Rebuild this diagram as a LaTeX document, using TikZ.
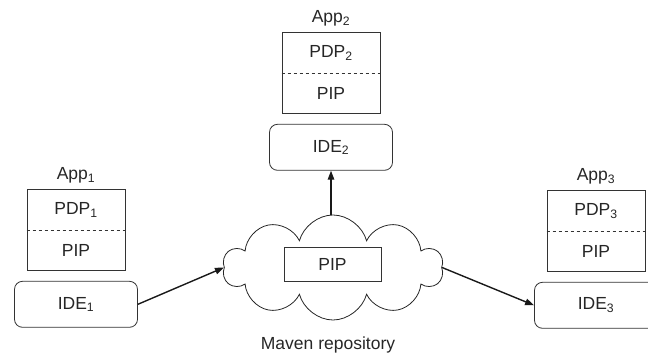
\documentclass[tikz,border=0pt]{standalone}
\usepackage{fontspec}
\setmainfont{Liberation Sans}
\usetikzlibrary{positioning,shapes.symbols,arrows.meta}
\begin{document}
\begin{tikzpicture}[x=1pt, y=-1pt,
   every node/.style={font=\fontsize{17.5}{20}\selectfont, text=black!85},
   app/.style={draw=black!80, line width=0.8pt, minimum width=98pt, minimum height=81pt},
   ide/.style={draw=black!80, line width=0.8pt, rounded corners=8pt, minimum width=123pt, minimum height=46pt},
   repo/.style={cloud, cloud puffs=10, cloud ignores aspect, draw=black!85, line width=0.8pt,
     minimum width=220pt, minimum height=105pt},
   link/.style={-{Triangle[length=9pt,width=6.5pt]}, line width=1.4pt, black!90}]
\useasboundingbox (0,0) rectangle (648,356);
\clip (0,0) rectangle (648,356);
\foreach \i/\cx/\cy in {1/76/230, 2/331/73, 3/596/231} {
  \node[app] (app\i) at (\cx,\cy) {};
  \draw[black!80, dashed, line width=0.7pt] (app\i.west) -- (app\i.east);
  \node (pdp\i) at ([yshift=20.25pt]app\i.center) {PDP\textsubscript{\i}};
  \node (pip\i) at ([yshift=-20.25pt]app\i.center) {PIP};
  \node[above=2pt of app\i] (lbl\i) {App\textsubscript{\i}};
  \node[ide, below=10pt of app\i] (ide\i) {IDE\textsubscript{\i}};
}
\node[repo] (cloud) at (333,267.5) {};
\node[draw=black!80, line width=0.8pt, minimum width=97pt, minimum height=34pt] (pip) at (332.5,264) {PIP};
\node (maven) at (328,345) {Maven repository};
\draw[link] (ide1.east) -- (cloud.west);
\draw[link] (ide2.south |- cloud.north) -- (ide2.south);
\draw[link] (cloud.east) -- (ide3.west);
\end{tikzpicture}
\end{document}
